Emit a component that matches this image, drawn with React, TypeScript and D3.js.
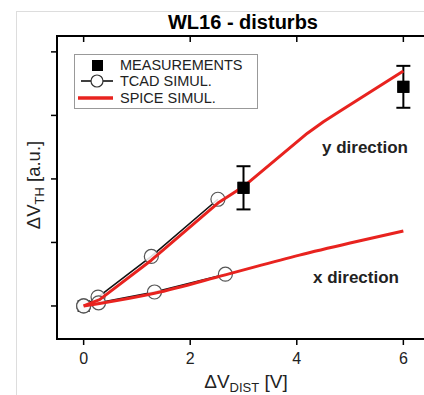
import React from 'react';
import * as d3 from 'd3';

// measurements (with error bars)
const measX = [0, 3, 6];
const measY = [0, 1.86, 3.45];
const measLo = [0, 1.52, 3.12];
const measHi = [0, 2.2, 3.78];

// TCAD simulation, y and x direction
const tcadYX = [0, 0.27, 1.27, 2.52];
const tcadYY = [0, 0.14, 0.78, 1.68];
const tcadXX = [0, 0.28, 1.33, 2.66];
const tcadXY = [0, 0.05, 0.22, 0.5];

// SPICE simulation, y and x direction
const spiceYX = [0, 0.3, 1.27, 2.52, 3, 4.2, 4.5, 4.8, 6];
const spiceYY = [0, 0.1, 0.72, 1.62, 1.88, 2.72, 2.9, 3.06, 3.7];
const spiceXX = [0, 0.3, 1.33, 2.66, 4.05, 5, 6];
const spiceXY = [0, 0.04, 0.2, 0.49, 0.8, 0.99, 1.18];

const xTicks = [0, 2, 4, 6];
const yTicks = [0, 1, 2, 3, 4];

const W = 424;
const H = 395;
const FONT = '"Liberation Sans", Arial, sans-serif';
const RED = '#e8231f';

const App: React.FC = () => {
  const x = d3.scaleLinear().domain([-0.5, 6.5]).range([57, 430]);
  const y = d3.scaleLinear().domain([-0.52, 4.25]).range([339, 36]);
  const left = x(-0.5), right = x(6.5), top = y(4.25), bottom = y(-0.52);

  const line = d3.line<[number, number]>().x(d => x(d[0])).y(d => y(d[1]));
  const smooth = d3.line<[number, number]>().x(d => x(d[0])).y(d => y(d[1])).curve(d3.curveMonotoneX);
  const zip = (a: number[], b: number[]) => a.map((v, i) => [v, b[i]] as [number, number]);

  return (
    <svg width={W} height={H} style={{ position: 'absolute', left: 0, top: 0, fontFamily: FONT }}>
      <rect x={0} y={0} width={W} height={H} fill="#fff" />
      {/* outer frame */}
      <line x1={16.5} y1={11} x2={16.5} y2={H} stroke="#ddd" />
      <line x1={16} y1={11.5} x2={W} y2={11.5} stroke="#ddd" />

      <text x={243} y={29} textAnchor="middle" fontSize={20} fontWeight="bold">WL16 - disturbs</text>

      {/* axes box */}
      <rect x={left} y={top} width={right - left} height={bottom - top} fill="none" stroke="#000" strokeWidth={2} />
      {xTicks.map(t => (
        <g key={'x' + t}>
          <line x1={x(t)} x2={x(t)} y1={bottom} y2={bottom + 6} stroke="#000" strokeWidth={1.5} />
          <line x1={x(t)} x2={x(t)} y1={top} y2={top + 6} stroke="#000" strokeWidth={1.5} />
          <text x={x(t)} y={364} textAnchor="middle" fontSize={16} fill="#222">{t}</text>
        </g>
      ))}
      {yTicks.map(t => (
        <line key={'y' + t} x1={left - 6} x2={left} y1={y(t)} y2={y(t)} stroke="#000" strokeWidth={1.5} />
      ))}

      {/* axis labels */}
      <text x={246} y={388} textAnchor="middle" fontSize={19} fill="#222">
        ΔV<tspan fontSize={13} dy={4}>DIST</tspan><tspan dy={-4}> [V]</tspan>
      </text>
      <text transform={`translate(40,185) rotate(-90)`} textAnchor="middle" fontSize={18.5} fill="#222">
        ΔV<tspan fontSize={13} dy={4}>TH</tspan><tspan dy={-4}> [a.u.]</tspan>
      </text>

      {/* measurements */}
      {measX.map((mx, i) => (
        <g key={'m' + i}>
          {measHi[i] > measLo[i] && (
            <g stroke="#000" strokeWidth={2}>
              <line x1={x(mx)} x2={x(mx)} y1={y(measLo[i])} y2={y(measHi[i])} />
              <line x1={x(mx) - 7} x2={x(mx) + 7} y1={y(measLo[i])} y2={y(measLo[i])} />
              <line x1={x(mx) - 7} x2={x(mx) + 7} y1={y(measHi[i])} y2={y(measHi[i])} />
            </g>
          )}
          <rect x={x(mx) - 6} y={y(measY[i]) - 6} width={12} height={12} fill="#000" />
        </g>
      ))}

      {/* TCAD */}
      {[zip(tcadYX, tcadYY), zip(tcadXX, tcadXY)].map((pts, k) => (
        <g key={'t' + k}>
          <path d={line(pts) || ''} fill="none" stroke="#111" strokeWidth={1.6} />
          {pts.map((p, i) => (
            <circle key={i} cx={x(p[0])} cy={y(p[1])} r={7} fill="#fff" fillOpacity={0.85} stroke="#555" strokeWidth={1.2} />
          ))}
        </g>
      ))}

      {/* SPICE */}
      <path d={line(zip(spiceYX, spiceYY)) || ''} fill="none" stroke={RED} strokeWidth={3} strokeLinejoin="round" />
      <path d={smooth(zip(spiceXX, spiceXY)) || ''} fill="none" stroke={RED} strokeWidth={3} strokeLinejoin="round" />

      {/* measurement squares on top at 3 and 6 */}
      {measX.slice(1).map((mx, i) => (
        <rect key={'mm' + i} x={x(mx) - 6} y={y(measY[i + 1]) - 6} width={12} height={12} fill="#000" />
      ))}

      <text x={322} y={153} fontSize={17} fontWeight="bold" fill="#222">y direction</text>
      <text x={313} y={283} fontSize={17} fontWeight="bold" fill="#222">x direction</text>

      {/* legend */}
      <g>
        <rect x={74.5} y={54.5} width={183} height={54} fill="#fff" stroke="#999" strokeWidth={1} />
        <rect x={92} y={60} width={11} height={11} fill="#000" />
        <text x={120} y={70} fontSize={14.5} fill="#222">MEASUREMENTS</text>
        <line x1={81} x2={113} y1={81} y2={81} stroke="#111" strokeWidth={1.6} />
        <circle cx={97} cy={81} r={6} fill="#fff" stroke="#333" strokeWidth={1.2} />
        <text x={120} y={86} fontSize={14.5} fill="#222">TCAD SIMUL.</text>
        <line x1={78} x2={113} y1={98} y2={98} stroke={RED} strokeWidth={3.5} />
        <text x={120} y={103} fontSize={14.5} fill="#222">SPICE SIMUL.</text>
      </g>
    </svg>
  );
};

export default App;
